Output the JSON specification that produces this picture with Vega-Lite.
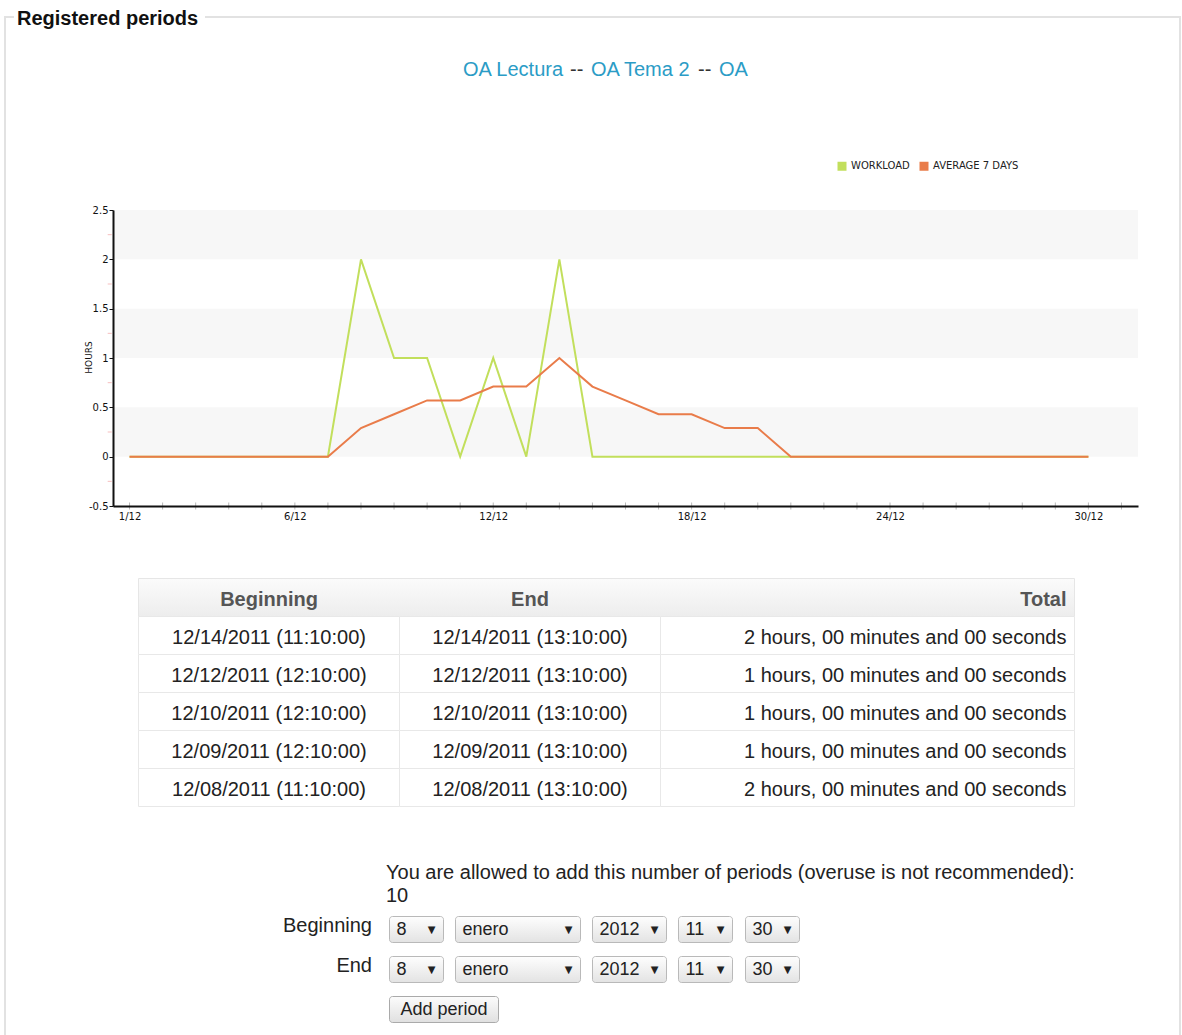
{
  "$schema": "https://vega.github.io/schema/vega-lite/v6.json",
  "width": 1182,
  "height": 1035,
  "autosize": {"type": "none"},
  "padding": 0,
  "background": "#ffffff",
  "config": {"view": {"stroke": null}, "font": "Liberation Sans"},
  "datasets": {
    "hours": [
      {"day": 1, "series": "Workload", "hours": 0}, {"day": 2, "series": "Workload", "hours": 0},
      {"day": 3, "series": "Workload", "hours": 0}, {"day": 4, "series": "Workload", "hours": 0},
      {"day": 5, "series": "Workload", "hours": 0}, {"day": 6, "series": "Workload", "hours": 0},
      {"day": 7, "series": "Workload", "hours": 0}, {"day": 8, "series": "Workload", "hours": 2},
      {"day": 9, "series": "Workload", "hours": 1}, {"day": 10, "series": "Workload", "hours": 1},
      {"day": 11, "series": "Workload", "hours": 0}, {"day": 12, "series": "Workload", "hours": 1},
      {"day": 13, "series": "Workload", "hours": 0}, {"day": 14, "series": "Workload", "hours": 2},
      {"day": 15, "series": "Workload", "hours": 0}, {"day": 16, "series": "Workload", "hours": 0},
      {"day": 17, "series": "Workload", "hours": 0}, {"day": 18, "series": "Workload", "hours": 0},
      {"day": 19, "series": "Workload", "hours": 0}, {"day": 20, "series": "Workload", "hours": 0},
      {"day": 21, "series": "Workload", "hours": 0}, {"day": 22, "series": "Workload", "hours": 0},
      {"day": 23, "series": "Workload", "hours": 0}, {"day": 24, "series": "Workload", "hours": 0},
      {"day": 25, "series": "Workload", "hours": 0}, {"day": 26, "series": "Workload", "hours": 0},
      {"day": 27, "series": "Workload", "hours": 0}, {"day": 28, "series": "Workload", "hours": 0},
      {"day": 29, "series": "Workload", "hours": 0}, {"day": 30, "series": "Workload", "hours": 0},
      {"day": 1, "series": "Average 7 days", "hours": 0}, {"day": 2, "series": "Average 7 days", "hours": 0},
      {"day": 3, "series": "Average 7 days", "hours": 0}, {"day": 4, "series": "Average 7 days", "hours": 0},
      {"day": 5, "series": "Average 7 days", "hours": 0}, {"day": 6, "series": "Average 7 days", "hours": 0},
      {"day": 7, "series": "Average 7 days", "hours": 0}, {"day": 8, "series": "Average 7 days", "hours": 0.29},
      {"day": 9, "series": "Average 7 days", "hours": 0.43}, {"day": 10, "series": "Average 7 days", "hours": 0.57},
      {"day": 11, "series": "Average 7 days", "hours": 0.57}, {"day": 12, "series": "Average 7 days", "hours": 0.71},
      {"day": 13, "series": "Average 7 days", "hours": 0.71}, {"day": 14, "series": "Average 7 days", "hours": 1},
      {"day": 15, "series": "Average 7 days", "hours": 0.71}, {"day": 16, "series": "Average 7 days", "hours": 0.57},
      {"day": 17, "series": "Average 7 days", "hours": 0.43}, {"day": 18, "series": "Average 7 days", "hours": 0.43},
      {"day": 19, "series": "Average 7 days", "hours": 0.29}, {"day": 20, "series": "Average 7 days", "hours": 0.29},
      {"day": 21, "series": "Average 7 days", "hours": 0}, {"day": 22, "series": "Average 7 days", "hours": 0},
      {"day": 23, "series": "Average 7 days", "hours": 0}, {"day": 24, "series": "Average 7 days", "hours": 0},
      {"day": 25, "series": "Average 7 days", "hours": 0}, {"day": 26, "series": "Average 7 days", "hours": 0},
      {"day": 27, "series": "Average 7 days", "hours": 0}, {"day": 28, "series": "Average 7 days", "hours": 0},
      {"day": 29, "series": "Average 7 days", "hours": 0}, {"day": 30, "series": "Average 7 days", "hours": 0}
    ],
    "days": [
      {"day": 1}, {"day": 2}, {"day": 3}, {"day": 4}, {"day": 5}, {"day": 6}, {"day": 7}, {"day": 8},
      {"day": 9}, {"day": 10}, {"day": 11}, {"day": 12}, {"day": 13}, {"day": 14}, {"day": 15}, {"day": 16},
      {"day": 17}, {"day": 18}, {"day": 19}, {"day": 20}, {"day": 21}, {"day": 22}, {"day": 23}, {"day": 24},
      {"day": 25}, {"day": 26}, {"day": 27}, {"day": 28}, {"day": 29}, {"day": 30}, {"day": 31}
    ],
    "table": [
      {"row": 0, "beginning": "Beginning", "end": "End", "total": "Total"},
      {"row": 1, "beginning": "12/14/2011 (11:10:00)", "end": "12/14/2011 (13:10:00)", "total": "2 hours, 00 minutes and 00 seconds"},
      {"row": 2, "beginning": "12/12/2011 (12:10:00)", "end": "12/12/2011 (13:10:00)", "total": "1 hours, 00 minutes and 00 seconds"},
      {"row": 3, "beginning": "12/10/2011 (12:10:00)", "end": "12/10/2011 (13:10:00)", "total": "1 hours, 00 minutes and 00 seconds"},
      {"row": 4, "beginning": "12/09/2011 (12:10:00)", "end": "12/09/2011 (13:10:00)", "total": "1 hours, 00 minutes and 00 seconds"},
      {"row": 5, "beginning": "12/08/2011 (11:10:00)", "end": "12/08/2011 (13:10:00)", "total": "2 hours, 00 minutes and 00 seconds"}
    ],
    "selects": [
      {"row": "Beginning", "day": "8", "month": "enero", "year": "2012", "hour": "11", "minute": "30"},
      {"row": "End", "day": "8", "month": "enero", "year": "2012", "hour": "11", "minute": "30"}
    ]
  },
  "layer": [
    {
      "data": {"values": [{}]},
      "layer": [
        {
          "mark": {"type": "rule", "color": "#e2e2e2", "strokeWidth": 2},
          "encoding": {
            "x": {"datum": 5, "type": "quantitative", "scale": {"domain": [0, 1182], "range": [0, 1182], "nice": false, "zero": false}, "axis": null},
            "x2": {"datum": 14},
            "y": {"datum": 17, "type": "quantitative", "scale": {"domain": [0, 1035], "range": [0, 1035], "nice": false, "zero": false}, "axis": null}
          }
        },
        {
          "mark": {"type": "rule", "color": "#e2e2e2", "strokeWidth": 2},
          "encoding": {
            "x": {"datum": 205, "type": "quantitative", "scale": {"domain": [0, 1182], "range": [0, 1182], "nice": false, "zero": false}, "axis": null},
            "x2": {"datum": 1180},
            "y": {"datum": 17, "type": "quantitative", "scale": {"domain": [0, 1035], "range": [0, 1035], "nice": false, "zero": false}, "axis": null}
          }
        },
        {
          "mark": {"type": "rule", "color": "#e2e2e2", "strokeWidth": 2},
          "encoding": {
            "x": {"datum": 5, "type": "quantitative", "scale": {"domain": [0, 1182], "range": [0, 1182], "nice": false, "zero": false}, "axis": null},
            "y": {"datum": 16, "type": "quantitative", "scale": {"domain": [0, 1035], "range": [0, 1035], "nice": false, "zero": false}, "axis": null},
            "y2": {"datum": 1035}
          }
        },
        {
          "mark": {"type": "rule", "color": "#e2e2e2", "strokeWidth": 2},
          "encoding": {
            "x": {"datum": 1180, "type": "quantitative", "scale": {"domain": [0, 1182], "range": [0, 1182], "nice": false, "zero": false}, "axis": null},
            "y": {"datum": 16, "type": "quantitative", "scale": {"domain": [0, 1035], "range": [0, 1035], "nice": false, "zero": false}, "axis": null},
            "y2": {"datum": 1035}
          }
        },
        {
          "mark": {"type": "text", "text": "Registered periods", "align": "left", "baseline": "alphabetic", "fontSize": 20, "fontWeight": "bold", "color": "#111111"},
          "encoding": {
            "x": {"datum": 17, "type": "quantitative", "scale": {"domain": [0, 1182], "range": [0, 1182], "nice": false, "zero": false}, "axis": null},
            "y": {"datum": 24.5, "type": "quantitative", "scale": {"domain": [0, 1035], "range": [0, 1035], "nice": false, "zero": false}, "axis": null}
          }
        },
        {
          "mark": {"type": "text", "text": "OA Lectura", "align": "left", "baseline": "alphabetic", "fontSize": 20, "color": "#2b9cc6"},
          "encoding": {
            "x": {"datum": 463, "type": "quantitative", "scale": {"domain": [0, 1182], "range": [0, 1182], "nice": false, "zero": false}, "axis": null},
            "y": {"datum": 75.5, "type": "quantitative", "scale": {"domain": [0, 1035], "range": [0, 1035], "nice": false, "zero": false}, "axis": null}
          }
        },
        {
          "mark": {"type": "text", "text": "--", "align": "left", "baseline": "alphabetic", "fontSize": 20, "color": "#333333"},
          "encoding": {
            "x": {"datum": 570, "type": "quantitative", "scale": {"domain": [0, 1182], "range": [0, 1182], "nice": false, "zero": false}, "axis": null},
            "y": {"datum": 75.5, "type": "quantitative", "scale": {"domain": [0, 1035], "range": [0, 1035], "nice": false, "zero": false}, "axis": null}
          }
        },
        {
          "mark": {"type": "text", "text": "OA Tema 2", "align": "left", "baseline": "alphabetic", "fontSize": 20, "color": "#2b9cc6"},
          "encoding": {
            "x": {"datum": 591, "type": "quantitative", "scale": {"domain": [0, 1182], "range": [0, 1182], "nice": false, "zero": false}, "axis": null},
            "y": {"datum": 75.5, "type": "quantitative", "scale": {"domain": [0, 1035], "range": [0, 1035], "nice": false, "zero": false}, "axis": null}
          }
        },
        {
          "mark": {"type": "text", "text": "--", "align": "left", "baseline": "alphabetic", "fontSize": 20, "color": "#333333"},
          "encoding": {
            "x": {"datum": 698, "type": "quantitative", "scale": {"domain": [0, 1182], "range": [0, 1182], "nice": false, "zero": false}, "axis": null},
            "y": {"datum": 75.5, "type": "quantitative", "scale": {"domain": [0, 1035], "range": [0, 1035], "nice": false, "zero": false}, "axis": null}
          }
        },
        {
          "mark": {"type": "text", "text": "OA", "align": "left", "baseline": "alphabetic", "fontSize": 20, "color": "#2b9cc6"},
          "encoding": {
            "x": {"datum": 719, "type": "quantitative", "scale": {"domain": [0, 1182], "range": [0, 1182], "nice": false, "zero": false}, "axis": null},
            "y": {"datum": 75.5, "type": "quantitative", "scale": {"domain": [0, 1035], "range": [0, 1035], "nice": false, "zero": false}, "axis": null}
          }
        }
      ]
    },
    {
      "data": {"name": "hours"},
      "layer": [
        {
          "data": {"values": [{"hours": 0, "hours2": 0.5}, {"hours": 1, "hours2": 1.5}, {"hours": 2, "hours2": 2.5}]},
          "mark": {"type": "rect", "color": "#f7f7f7"},
          "encoding": {
            "x": {"datum": 0.5, "type": "quantitative", "scale": {"domain": [0.5, 31.5], "range": [113, 1138], "nice": false, "zero": false},
              "axis": {"orient": "bottom", "offset": -529, "zindex": 1, "values": [1, 6, 12, 18, 24, 30],
                "labelExpr": "datum.value + '/12'", "ticks": false,
                "domainColor": "#111111", "domainWidth": 2, "labelFont": "DejaVu Sans", "labelFontSize": 10,
                "labelColor": "#111111", "labelPadding": 5, "labelOverlap": false, "labelBound": false, "labelFlush": false, "grid": false, "title": null}},
            "x2": {"datum": 31.5},
            "y": {"field": "hours", "type": "quantitative", "scale": {"domain": [-0.5, 2.5], "range": [506, 210], "nice": false, "zero": false},
              "axis": {"orient": "left", "offset": -113, "zindex": 1, "values": [-0.5, 0, 0.5, 1, 1.5, 2, 2.5], "labelExpr": "datum.value + ''",
                "tickSize": 4, "tickColor": "#111111", "domainColor": "#111111", "domainWidth": 2, "labelFont": "DejaVu Sans", "labelFontSize": 10,
                "labelColor": "#111111", "labelPadding": 1, "labelOverlap": false, "labelBound": false, "labelFlush": false, "grid": false,
                "title": "HOURS", "titleFont": "DejaVu Sans", "titleFontSize": 9, "titleFontWeight": "normal", "titleColor": "#111111",
                "titleAngle": 270, "titleAlign": "center", "titleBaseline": "middle", "titleX": -25, "titleY": 357}},
            "y2": {"field": "hours2"}
          }
        },
        {
          "data": {"name": "days"},
          "mark": {"type": "tick", "orient": "vertical", "size": 7, "thickness": 1, "color": "#9a9a9a"},
          "encoding": {
            "x": {"field": "day", "type": "quantitative", "scale": {"domain": [0.5, 31.5], "range": [113, 1138], "nice": false, "zero": false}},
            "y": {"datum": -0.5, "type": "quantitative", "scale": {"domain": [-0.5, 2.5], "range": [506, 210], "nice": false, "zero": false}}
          }
        },
        {
          "transform": [{"filter": "datum.series === 'Workload'"}],
          "mark": {"type": "line", "strokeWidth": 2},
          "encoding": {
            "x": {"field": "day", "type": "quantitative", "scale": {"domain": [0.5, 31.5], "range": [113, 1138], "nice": false, "zero": false}},
            "y": {"field": "hours", "type": "quantitative", "scale": {"domain": [-0.5, 2.5], "range": [506, 210], "nice": false, "zero": false}},
            "color": {"field": "series", "type": "nominal", "scale": {"domain": ["Workload", "Average 7 days"], "range": ["#c2df5c", "#e97c4a"]},
              "legend": {"orient": "none", "legendX": 837, "legendY": 161, "direction": "horizontal", "title": null,
                "symbolType": "square", "symbolSize": 9, "symbolStrokeWidth": 6, "symbolOpacity": 1, "labelFont": "DejaVu Sans", "labelFontSize": 10,
                "labelColor": "#222222", "labelExpr": "upper(datum.label)", "labelOffset": 4, "columnPadding": 0}}
          }
        },
        {
          "transform": [{"filter": "datum.series === 'Average 7 days'"}],
          "mark": {"type": "line", "strokeWidth": 2},
          "encoding": {
            "x": {"field": "day", "type": "quantitative", "scale": {"domain": [0.5, 31.5], "range": [113, 1138], "nice": false, "zero": false}},
            "y": {"field": "hours", "type": "quantitative", "scale": {"domain": [-0.5, 2.5], "range": [506, 210], "nice": false, "zero": false}},
            "color": {"field": "series", "type": "nominal", "scale": {"domain": ["Workload", "Average 7 days"], "range": ["#c2df5c", "#e97c4a"]},
              "legend": {"orient": "none", "legendX": 837, "legendY": 161, "direction": "horizontal", "title": null,
                "symbolType": "square", "symbolSize": 9, "symbolStrokeWidth": 6, "symbolOpacity": 1, "labelFont": "DejaVu Sans", "labelFontSize": 10,
                "labelColor": "#222222", "labelExpr": "upper(datum.label)", "labelOffset": 4, "columnPadding": 0}}
          }
        },
        {
          "data": {"values": [{"hours": -0.25}, {"hours": 0.25}, {"hours": 0.75}, {"hours": 1.25}, {"hours": 1.75}, {"hours": 2.25}]},
          "mark": {"type": "tick", "orient": "horizontal", "size": 4, "thickness": 1, "color": "#f2a3a3"},
          "encoding": {
            "x": {"datum": 0.4, "type": "quantitative", "scale": {"domain": [0.5, 31.5], "range": [113, 1138], "nice": false, "zero": false}},
            "y": {"field": "hours", "type": "quantitative", "scale": {"domain": [-0.5, 2.5], "range": [506, 210], "nice": false, "zero": false}}
          }
        }
      ]
    },
    {
      "data": {"name": "table"},
      "encoding": {
        "y": {"field": "row", "type": "ordinal", "scale": {"type": "band", "domain": [0, 1, 2, 3, 4, 5], "range": [578.5, 806.5], "paddingInner": 0, "paddingOuter": 0}, "axis": null}
      },
      "layer": [
        {
          "transform": [{"filter": "datum.row === 0"}],
          "mark": {"type": "rect", "stroke": "#e6e6e6", "strokeWidth": 1,
            "fill": {"gradient": "linear", "x1": 0, "y1": 0, "x2": 0, "y2": 1, "stops": [{"offset": 0, "color": "#fbfbfb"}, {"offset": 1, "color": "#ededed"}]}},
          "encoding": {
            "x": {"datum": 0, "type": "quantitative", "scale": {"domain": [0, 936], "range": [138.5, 1074.5], "nice": false, "zero": false}, "axis": null},
            "x2": {"datum": 936}
          }
        },
        {
          "transform": [{"filter": "datum.row > 0"}],
          "mark": {"type": "rect", "fill": "#ffffff", "stroke": "#e8e8e8", "strokeWidth": 1},
          "encoding": {
            "x": {"datum": 0, "type": "quantitative", "scale": {"domain": [0, 936], "range": [138.5, 1074.5], "nice": false, "zero": false}, "axis": null},
            "x2": {"datum": 261}
          }
        },
        {
          "transform": [{"filter": "datum.row > 0"}],
          "mark": {"type": "rect", "fill": "#ffffff", "stroke": "#e8e8e8", "strokeWidth": 1},
          "encoding": {
            "x": {"datum": 261, "type": "quantitative", "scale": {"domain": [0, 936], "range": [138.5, 1074.5], "nice": false, "zero": false}, "axis": null},
            "x2": {"datum": 522}
          }
        },
        {
          "transform": [{"filter": "datum.row > 0"}],
          "mark": {"type": "rect", "fill": "#ffffff", "stroke": "#e8e8e8", "strokeWidth": 1},
          "encoding": {
            "x": {"datum": 522, "type": "quantitative", "scale": {"domain": [0, 936], "range": [138.5, 1074.5], "nice": false, "zero": false}, "axis": null},
            "x2": {"datum": 936}
          }
        },
        {
          "transform": [{"filter": "datum.row === 0"}],
          "mark": {"type": "text", "align": "center", "baseline": "middle", "dy": 2, "fontSize": 20, "fontWeight": "bold", "color": "#555555"},
          "encoding": {
            "x": {"datum": 130.5, "type": "quantitative", "scale": {"domain": [0, 936], "range": [138.5, 1074.5], "nice": false, "zero": false}, "axis": null},
            "text": {"field": "beginning"}
          }
        },
        {
          "transform": [{"filter": "datum.row === 0"}],
          "mark": {"type": "text", "align": "center", "baseline": "middle", "dy": 2, "fontSize": 20, "fontWeight": "bold", "color": "#555555"},
          "encoding": {
            "x": {"datum": 391.5, "type": "quantitative", "scale": {"domain": [0, 936], "range": [138.5, 1074.5], "nice": false, "zero": false}, "axis": null},
            "text": {"field": "end"}
          }
        },
        {
          "transform": [{"filter": "datum.row === 0"}],
          "mark": {"type": "text", "align": "right", "baseline": "middle", "dy": 2, "fontSize": 20, "fontWeight": "bold", "color": "#555555"},
          "encoding": {
            "x": {"datum": 928, "type": "quantitative", "scale": {"domain": [0, 936], "range": [138.5, 1074.5], "nice": false, "zero": false}, "axis": null},
            "text": {"field": "total"}
          }
        },
        {
          "transform": [{"filter": "datum.row > 0"}],
          "mark": {"type": "text", "align": "center", "baseline": "middle", "dy": 2.5, "fontSize": 20, "color": "#222222"},
          "encoding": {
            "x": {"datum": 130.5, "type": "quantitative", "scale": {"domain": [0, 936], "range": [138.5, 1074.5], "nice": false, "zero": false}, "axis": null},
            "text": {"field": "beginning"}
          }
        },
        {
          "transform": [{"filter": "datum.row > 0"}],
          "mark": {"type": "text", "align": "center", "baseline": "middle", "dy": 2.5, "fontSize": 20, "color": "#222222"},
          "encoding": {
            "x": {"datum": 391.5, "type": "quantitative", "scale": {"domain": [0, 936], "range": [138.5, 1074.5], "nice": false, "zero": false}, "axis": null},
            "text": {"field": "end"}
          }
        },
        {
          "transform": [{"filter": "datum.row > 0"}],
          "mark": {"type": "text", "align": "right", "baseline": "middle", "dy": 2.5, "fontSize": 20, "color": "#222222"},
          "encoding": {
            "x": {"datum": 928, "type": "quantitative", "scale": {"domain": [0, 936], "range": [138.5, 1074.5], "nice": false, "zero": false}, "axis": null},
            "text": {"field": "total"}
          }
        }
      ]
    },
    {
      "data": {"name": "selects"},
      "encoding": {
        "y": {"field": "row", "type": "nominal", "scale": {"type": "band", "domain": ["Count", "Beginning", "End", "Button"], "range": [869.5, 1029.5], "paddingInner": 0.35, "paddingOuter": 0.175}, "axis": null}
      },
      "layer": [
        {
          "data": {"values": [{"row": "Count"}]},
          "mark": {"type": "text", "text": "You are allowed to add this number of periods (overuse is not recommended):", "align": "left", "baseline": "alphabetic", "dy": -10.5, "fontSize": 20, "color": "#222222"},
          "encoding": {"x": {"datum": 386, "type": "quantitative", "scale": {"domain": [0, 1182], "range": [0, 1182], "nice": false, "zero": false}, "axis": null}}
        },
        {
          "data": {"values": [{"row": "Count"}]},
          "mark": {"type": "text", "text": "10", "align": "left", "baseline": "alphabetic", "dy": 12.5, "fontSize": 20, "color": "#222222"},
          "encoding": {"x": {"datum": 386, "type": "quantitative", "scale": {"domain": [0, 1182], "range": [0, 1182], "nice": false, "zero": false}, "axis": null}}
        },
        {
          "mark": {"type": "text", "align": "right", "baseline": "middle", "dy": -3.5, "fontSize": 20, "color": "#222222"},
          "encoding": {
            "x": {"datum": 372, "type": "quantitative", "scale": {"domain": [0, 1182], "range": [0, 1182], "nice": false, "zero": false}, "axis": null},
            "text": {"field": "row"}
          }
        },
        {
          "mark": {"type": "rect", "stroke": "#b9b9b9", "strokeWidth": 1, "cornerRadius": 3,
            "fill": {"gradient": "linear", "x1": 0, "y1": 0, "x2": 0, "y2": 1, "stops": [{"offset": 0, "color": "#fefefe"}, {"offset": 1, "color": "#e3e3e3"}]}},
          "encoding": {
            "x": {"datum": 389.5, "type": "quantitative", "scale": {"domain": [0, 1182], "range": [0, 1182], "nice": false, "zero": false}, "axis": null},
            "x2": {"datum": 443.5}
          }
        },
        {
          "mark": {"type": "text", "align": "left", "baseline": "middle", "dx": 7, "fontSize": 18, "color": "#222222"},
          "encoding": {
            "x": {"datum": 389.5, "type": "quantitative", "scale": {"domain": [0, 1182], "range": [0, 1182], "nice": false, "zero": false}, "axis": null},
            "text": {"field": "day"}
          }
        },
        {
          "mark": {"type": "text", "text": "▼", "font": "DejaVu Sans", "align": "right", "baseline": "middle", "dx": -8, "fontSize": 10, "color": "#222222"},
          "encoding": {
            "x": {"datum": 443.5, "type": "quantitative", "scale": {"domain": [0, 1182], "range": [0, 1182], "nice": false, "zero": false}, "axis": null}
          }
        },
        {
          "mark": {"type": "rect", "stroke": "#b9b9b9", "strokeWidth": 1, "cornerRadius": 3,
            "fill": {"gradient": "linear", "x1": 0, "y1": 0, "x2": 0, "y2": 1, "stops": [{"offset": 0, "color": "#fefefe"}, {"offset": 1, "color": "#e3e3e3"}]}},
          "encoding": {
            "x": {"datum": 455.5, "type": "quantitative", "scale": {"domain": [0, 1182], "range": [0, 1182], "nice": false, "zero": false}, "axis": null},
            "x2": {"datum": 580.5}
          }
        },
        {
          "mark": {"type": "text", "align": "left", "baseline": "middle", "dx": 7, "fontSize": 18, "color": "#222222"},
          "encoding": {
            "x": {"datum": 455.5, "type": "quantitative", "scale": {"domain": [0, 1182], "range": [0, 1182], "nice": false, "zero": false}, "axis": null},
            "text": {"field": "month"}
          }
        },
        {
          "mark": {"type": "text", "text": "▼", "font": "DejaVu Sans", "align": "right", "baseline": "middle", "dx": -8, "fontSize": 10, "color": "#222222"},
          "encoding": {
            "x": {"datum": 580.5, "type": "quantitative", "scale": {"domain": [0, 1182], "range": [0, 1182], "nice": false, "zero": false}, "axis": null}
          }
        },
        {
          "mark": {"type": "rect", "stroke": "#b9b9b9", "strokeWidth": 1, "cornerRadius": 3,
            "fill": {"gradient": "linear", "x1": 0, "y1": 0, "x2": 0, "y2": 1, "stops": [{"offset": 0, "color": "#fefefe"}, {"offset": 1, "color": "#e3e3e3"}]}},
          "encoding": {
            "x": {"datum": 592.5, "type": "quantitative", "scale": {"domain": [0, 1182], "range": [0, 1182], "nice": false, "zero": false}, "axis": null},
            "x2": {"datum": 666.5}
          }
        },
        {
          "mark": {"type": "text", "align": "left", "baseline": "middle", "dx": 7, "fontSize": 18, "color": "#222222"},
          "encoding": {
            "x": {"datum": 592.5, "type": "quantitative", "scale": {"domain": [0, 1182], "range": [0, 1182], "nice": false, "zero": false}, "axis": null},
            "text": {"field": "year"}
          }
        },
        {
          "mark": {"type": "text", "text": "▼", "font": "DejaVu Sans", "align": "right", "baseline": "middle", "dx": -8, "fontSize": 10, "color": "#222222"},
          "encoding": {
            "x": {"datum": 666.5, "type": "quantitative", "scale": {"domain": [0, 1182], "range": [0, 1182], "nice": false, "zero": false}, "axis": null}
          }
        },
        {
          "mark": {"type": "rect", "stroke": "#b9b9b9", "strokeWidth": 1, "cornerRadius": 3,
            "fill": {"gradient": "linear", "x1": 0, "y1": 0, "x2": 0, "y2": 1, "stops": [{"offset": 0, "color": "#fefefe"}, {"offset": 1, "color": "#e3e3e3"}]}},
          "encoding": {
            "x": {"datum": 678.5, "type": "quantitative", "scale": {"domain": [0, 1182], "range": [0, 1182], "nice": false, "zero": false}, "axis": null},
            "x2": {"datum": 732.5}
          }
        },
        {
          "mark": {"type": "text", "align": "left", "baseline": "middle", "dx": 7, "fontSize": 18, "color": "#222222"},
          "encoding": {
            "x": {"datum": 678.5, "type": "quantitative", "scale": {"domain": [0, 1182], "range": [0, 1182], "nice": false, "zero": false}, "axis": null},
            "text": {"field": "hour"}
          }
        },
        {
          "mark": {"type": "text", "text": "▼", "font": "DejaVu Sans", "align": "right", "baseline": "middle", "dx": -8, "fontSize": 10, "color": "#222222"},
          "encoding": {
            "x": {"datum": 732.5, "type": "quantitative", "scale": {"domain": [0, 1182], "range": [0, 1182], "nice": false, "zero": false}, "axis": null}
          }
        },
        {
          "mark": {"type": "rect", "stroke": "#b9b9b9", "strokeWidth": 1, "cornerRadius": 3,
            "fill": {"gradient": "linear", "x1": 0, "y1": 0, "x2": 0, "y2": 1, "stops": [{"offset": 0, "color": "#fefefe"}, {"offset": 1, "color": "#e3e3e3"}]}},
          "encoding": {
            "x": {"datum": 745.5, "type": "quantitative", "scale": {"domain": [0, 1182], "range": [0, 1182], "nice": false, "zero": false}, "axis": null},
            "x2": {"datum": 799.5}
          }
        },
        {
          "mark": {"type": "text", "align": "left", "baseline": "middle", "dx": 7, "fontSize": 18, "color": "#222222"},
          "encoding": {
            "x": {"datum": 745.5, "type": "quantitative", "scale": {"domain": [0, 1182], "range": [0, 1182], "nice": false, "zero": false}, "axis": null},
            "text": {"field": "minute"}
          }
        },
        {
          "mark": {"type": "text", "text": "▼", "font": "DejaVu Sans", "align": "right", "baseline": "middle", "dx": -8, "fontSize": 10, "color": "#222222"},
          "encoding": {
            "x": {"datum": 799.5, "type": "quantitative", "scale": {"domain": [0, 1182], "range": [0, 1182], "nice": false, "zero": false}, "axis": null}
          }
        },
        {
          "data": {"values": [{"row": "Button"}]},
          "mark": {"type": "rect", "stroke": "#aaaaaa", "strokeWidth": 1, "cornerRadius": 3,
            "fill": {"gradient": "linear", "x1": 0, "y1": 0, "x2": 0, "y2": 1, "stops": [{"offset": 0, "color": "#fcfcfc"}, {"offset": 1, "color": "#e0e0e0"}]}},
          "encoding": {
            "x": {"datum": 389.5, "type": "quantitative", "scale": {"domain": [0, 1182], "range": [0, 1182], "nice": false, "zero": false}, "axis": null},
            "x2": {"datum": 498.5}
          }
        },
        {
          "data": {"values": [{"row": "Button"}]},
          "mark": {"type": "text", "text": "Add period", "align": "center", "baseline": "middle", "fontSize": 18, "color": "#222222"},
          "encoding": {
            "x": {"datum": 444, "type": "quantitative", "scale": {"domain": [0, 1182], "range": [0, 1182], "nice": false, "zero": false}, "axis": null}
          }
        }
      ]
    }
  ],
  "resolve": {"scale": {"x": "independent", "y": "independent"}}
}
